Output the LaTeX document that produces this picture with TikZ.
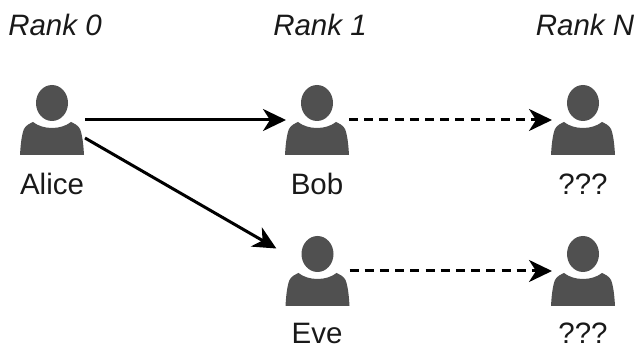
\documentclass[tikz,border=0pt]{standalone}
\usepackage{fontspec}
\setmainfont{Liberation Sans}
\usetikzlibrary{arrows.meta}
\definecolor{icon}{RGB}{80,80,80}
\newcommand{\personicon}[1]{%
  \begin{scope}[shift={(#1.south west)}]
  \fill[icon] (32,52) ellipse [x radius=16,y radius=18];
  \fill[icon] (0,0) .. controls (0.5,9) and (1.5,20) .. (4,26)
    .. controls (6,30) and (10,31.5) .. (13,33)
    .. controls (18,29) and (25,27) .. (32,27)
    .. controls (39,27) and (46,29) .. (51,33)
    .. controls (54,31.5) and (58,30) .. (60,26)
    .. controls (62.5,20) and (63.5,9) .. (64,0) -- cycle;
  \end{scope}}
\tikzset{
  person/.style={minimum width=64pt,minimum height=70pt,inner sep=0pt,outer sep=0pt},
  lab/.style={inner sep=0pt,anchor=base,font=\fontsize{29.5}{32}\selectfont,text=black!90},
  rank/.style={lab,font=\fontsize{29.5}{32}\selectfont\itshape},
  conn/.style={line width=3pt,-{Stealth[length=23pt,width=22pt,inset=7pt]},shorten >=-1pt},
  dconn/.style={conn,dash pattern=on 9pt off 6.2pt}
}
\begin{document}
\begin{tikzpicture}[x=1pt,y=1pt]
\useasboundingbox (0,0) rectangle (638,348);
\node[person] (alice) at (52,228) {};
\node[person] (bob) at (317,228) {};
\node[person] (eve) at (317.5,77) {};
\node[person] (q1) at (583,228) {};
\node[person] (q2) at (583,77) {};
\personicon{alice}
\personicon{bob}
\personicon{eve}
\personicon{q1}
\personicon{q2}
\node[rank] (r0) at (55,312) {Rank 0};
\node[rank] (r1) at (320,312) {Rank 1};
\node[rank] (rn) at (585,312) {Rank N};
\node[lab] (la) at (52,153) {Alice};
\node[lab] (lb) at (317,153) {Bob};
\node[lab] (le) at (317,4) {Eve};
\node[lab] (lq1) at (583,153) {???};
\node[lab] (lq2) at (583,4) {???};
\draw[conn] (alice.east) ++(1,0) -- (bob.west);
\draw[conn] ([xshift=1pt,yshift=-18pt]alice.east) -- ([xshift=-10pt,yshift=23pt]eve.west);
\draw[dconn] (bob.east) -- (q1.west);
\draw[dconn] (eve.east) -- (q2.west);
\end{tikzpicture}
\end{document}
